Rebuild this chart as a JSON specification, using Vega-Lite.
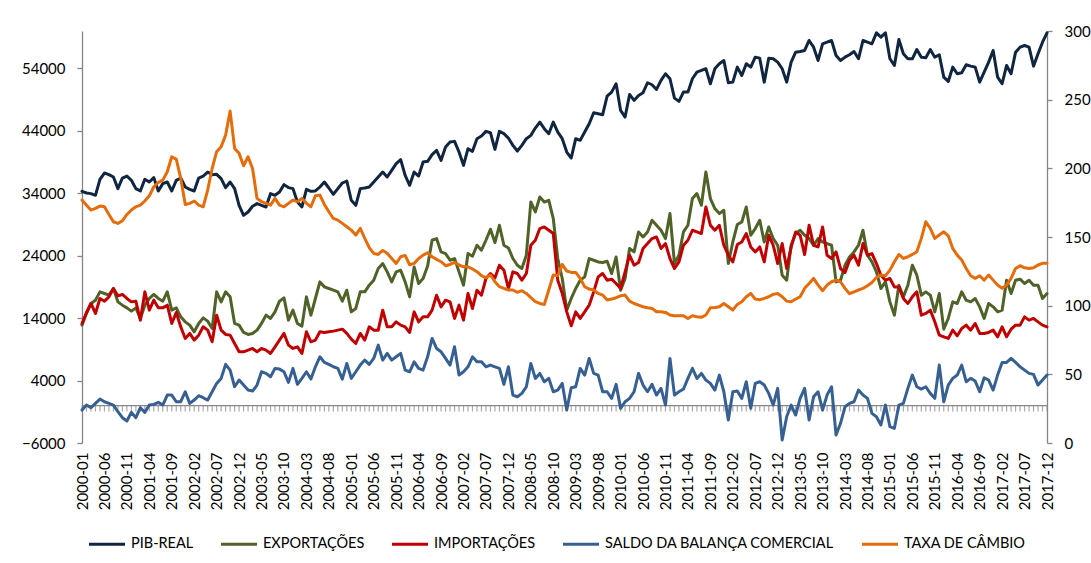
{
"$schema":"https://vega.github.io/schema/vega-lite/v6.json",
"width":965,"height":412,
"autosize":{"type":"none"},
"padding":{"left":82,"top":31,"right":44,"bottom":120},
"background":"#ffffff",
"config":{"view":{"stroke":null},"font":"Lato","axis":{"labelFont":"Lato","labelFontSize":15,"labelColor":"#000000","grid":false,"title":null,"domainColor":"#868686","tickColor":"#868686","domainWidth":1.3,"tickWidth":1.3}},
"data":{"values":[
{"m":"2000-01","pib":34320,"exp":12880,"imp":13150,"saldo":-720,"cambio":176.9},
{"m":"2000-02","pib":34050,"exp":14750,"imp":14910,"saldo":80,"cambio":173.2},
{"m":"2000-03","pib":33950,"exp":16350,"imp":16350,"saldo":-350,"cambio":169.6},
{"m":"2000-04","pib":33680,"exp":16880,"imp":14750,"saldo":350,"cambio":170.8},
{"m":"2000-05","pib":36240,"exp":18210,"imp":17150,"saldo":1040,"cambio":172.5},
{"m":"2000-06","pib":37250,"exp":17950,"imp":16720,"saldo":610,"cambio":172.0},
{"m":"2000-07","pib":36990,"exp":17680,"imp":17410,"saldo":350,"cambio":166.4},
{"m":"2000-08","pib":36610,"exp":18750,"imp":18750,"saldo":80,"cambio":161.1},
{"m":"2000-09","pib":34750,"exp":16610,"imp":17570,"saldo":-990,"cambio":159.9},
{"m":"2000-10","pib":36450,"exp":16080,"imp":17790,"saldo":-1950,"cambio":161.8},
{"m":"2000-11","pib":36770,"exp":15650,"imp":17150,"saldo":-2480,"cambio":166.4},
{"m":"2000-12","pib":36080,"exp":15120,"imp":16610,"saldo":-1090,"cambio":169.6},
{"m":"2001-01","pib":34750,"exp":15650,"imp":16720,"saldo":-1950,"cambio":172.0},
{"m":"2001-02","pib":34370,"exp":13950,"imp":13680,"saldo":-350,"cambio":173.2},
{"m":"2001-03","pib":36240,"exp":16080,"imp":18210,"saldo":-1090,"cambio":176.2},
{"m":"2001-04","pib":35810,"exp":17150,"imp":15280,"saldo":80,"cambio":180.0},
{"m":"2001-05","pib":36510,"exp":17790,"imp":16880,"saldo":190,"cambio":186.6},
{"m":"2001-06","pib":34370,"exp":17150,"imp":15650,"saldo":510,"cambio":189.7},
{"m":"2001-07","pib":35550,"exp":16720,"imp":15650,"saldo":80,"cambio":191.4},
{"m":"2001-08","pib":35810,"exp":18210,"imp":16080,"saldo":1680,"cambio":197.5},
{"m":"2001-09","pib":34370,"exp":15280,"imp":13150,"saldo":1680,"cambio":208.4},
{"m":"2001-10","pib":36080,"exp":15650,"imp":14910,"saldo":610,"cambio":206.7},
{"m":"2001-11","pib":36450,"exp":14210,"imp":12610,"saldo":610,"cambio":192.7},
{"m":"2001-12","pib":35010,"exp":13410,"imp":10750,"saldo":2210,"cambio":173.7},
{"m":"2002-01","pib":34640,"exp":12880,"imp":11550,"saldo":350,"cambio":174.5},
{"m":"2002-02","pib":34370,"exp":11810,"imp":10480,"saldo":880,"cambio":176.2},
{"m":"2002-03","pib":36450,"exp":13150,"imp":11280,"saldo":1570,"cambio":173.2},
{"m":"2002-04","pib":36770,"exp":14050,"imp":12610,"saldo":1250,"cambio":172.0},
{"m":"2002-05","pib":37410,"exp":13520,"imp":12080,"saldo":880,"cambio":184.2},
{"m":"2002-06","pib":36990,"exp":12350,"imp":10210,"saldo":2210,"cambio":199.9},
{"m":"2002-07","pib":37040,"exp":18210,"imp":14480,"saldo":3550,"cambio":212.1},
{"m":"2002-08","pib":36350,"exp":16610,"imp":12080,"saldo":4350,"cambio":215.7},
{"m":"2002-09","pib":34910,"exp":18210,"imp":11390,"saldo":6590,"cambio":224.2},
{"m":"2002-10","pib":35810,"exp":17410,"imp":11280,"saldo":5680,"cambio":241.7},
{"m":"2002-11","pib":34750,"exp":13150,"imp":9950,"saldo":3010,"cambio":214.5},
{"m":"2002-12","pib":32080,"exp":12880,"imp":8610,"saldo":4080,"cambio":210.9},
{"m":"2003-01","pib":30480,"exp":11710,"imp":8610,"saldo":3280,"cambio":201.9},
{"m":"2003-02","pib":31010,"exp":11390,"imp":8880,"saldo":2480,"cambio":208.4},
{"m":"2003-03","pib":31920,"exp":11550,"imp":9150,"saldo":2320,"cambio":199.9},
{"m":"2003-04","pib":32350,"exp":12080,"imp":8610,"saldo":3280,"cambio":178.1},
{"m":"2003-05","pib":32080,"exp":13150,"imp":9150,"saldo":5410,"cambio":175.7},
{"m":"2003-06","pib":31810,"exp":14480,"imp":8880,"saldo":5150,"cambio":174.5},
{"m":"2003-07","pib":33950,"exp":13950,"imp":8350,"saldo":4610,"cambio":173.2},
{"m":"2003-08","pib":33680,"exp":15010,"imp":9410,"saldo":5950,"cambio":178.1},
{"m":"2003-09","pib":34210,"exp":16720,"imp":10480,"saldo":5840,"cambio":173.2},
{"m":"2003-10","pib":35390,"exp":17250,"imp":11550,"saldo":5410,"cambio":172.0},
{"m":"2003-11","pib":34910,"exp":13680,"imp":9680,"saldo":3710,"cambio":174.5},
{"m":"2003-12","pib":34750,"exp":15280,"imp":9150,"saldo":5950,"cambio":176.9},
{"m":"2004-01","pib":32610,"exp":13150,"imp":9410,"saldo":3390,"cambio":175.7},
{"m":"2004-02","pib":31810,"exp":12720,"imp":8350,"saldo":4350,"cambio":178.1},
{"m":"2004-03","pib":34640,"exp":17410,"imp":11810,"saldo":5410,"cambio":174.5},
{"m":"2004-04","pib":34320,"exp":14480,"imp":10210,"saldo":4240,"cambio":172.0},
{"m":"2004-05","pib":34370,"exp":17150,"imp":10480,"saldo":6210,"cambio":180.0},
{"m":"2004-06","pib":35010,"exp":19810,"imp":11810,"saldo":7810,"cambio":180.5},
{"m":"2004-07","pib":35810,"exp":19010,"imp":11710,"saldo":6910,"cambio":173.7},
{"m":"2004-08","pib":34850,"exp":18750,"imp":11810,"saldo":6590,"cambio":168.4},
{"m":"2004-09","pib":33840,"exp":18480,"imp":11920,"saldo":6210,"cambio":163.5},
{"m":"2004-10","pib":34750,"exp":18210,"imp":12080,"saldo":5950,"cambio":162.3},
{"m":"2004-11","pib":35650,"exp":16720,"imp":12240,"saldo":4240,"cambio":159.9},
{"m":"2004-12","pib":35970,"exp":18480,"imp":11550,"saldo":6750,"cambio":157.5},
{"m":"2005-01","pib":32880,"exp":15010,"imp":10640,"saldo":4350,"cambio":155.0},
{"m":"2005-02","pib":32080,"exp":15550,"imp":9950,"saldo":5410,"cambio":151.4},
{"m":"2005-03","pib":34750,"exp":18210,"imp":11550,"saldo":6480,"cambio":156.3},
{"m":"2005-04","pib":34850,"exp":18210,"imp":10480,"saldo":7280,"cambio":149.0},
{"m":"2005-05","pib":35010,"exp":19280,"imp":12610,"saldo":6590,"cambio":142.2},
{"m":"2005-06","pib":35810,"exp":20080,"imp":12080,"saldo":7550,"cambio":138.1},
{"m":"2005-07","pib":36610,"exp":21950,"imp":12080,"saldo":9680,"cambio":137.3},
{"m":"2005-08","pib":37410,"exp":22750,"imp":15280,"saldo":7280,"cambio":140.2},
{"m":"2005-09","pib":36610,"exp":21410,"imp":12610,"saldo":8350,"cambio":138.1},
{"m":"2005-10","pib":37680,"exp":19810,"imp":12610,"saldo":7280,"cambio":134.4},
{"m":"2005-11","pib":38750,"exp":21410,"imp":13410,"saldo":7810,"cambio":130.8},
{"m":"2005-12","pib":39390,"exp":21680,"imp":12880,"saldo":8350,"cambio":135.6},
{"m":"2006-01","pib":36880,"exp":19810,"imp":12610,"saldo":5680,"cambio":136.6},
{"m":"2006-02","pib":35280,"exp":17410,"imp":11710,"saldo":5410,"cambio":129.8},
{"m":"2006-03","pib":37410,"exp":22210,"imp":15010,"saldo":7010,"cambio":130.8},
{"m":"2006-04","pib":36770,"exp":19550,"imp":13410,"saldo":5950,"cambio":134.4},
{"m":"2006-05","pib":39010,"exp":20350,"imp":14210,"saldo":5680,"cambio":136.8},
{"m":"2006-06","pib":39120,"exp":22370,"imp":14210,"saldo":7810,"cambio":138.5},
{"m":"2006-07","pib":40190,"exp":26480,"imp":15280,"saldo":10750,"cambio":135.6},
{"m":"2006-08","pib":40880,"exp":26750,"imp":17680,"saldo":9150,"cambio":133.7},
{"m":"2006-09","pib":39280,"exp":24610,"imp":15810,"saldo":8610,"cambio":132.0},
{"m":"2006-10","pib":41410,"exp":24350,"imp":16880,"saldo":7550,"cambio":129.1},
{"m":"2006-11","pib":42210,"exp":23280,"imp":16610,"saldo":6480,"cambio":130.0},
{"m":"2006-12","pib":42320,"exp":23550,"imp":13950,"saldo":9410,"cambio":131.5},
{"m":"2007-01","pib":40610,"exp":21410,"imp":16080,"saldo":4880,"cambio":129.6},
{"m":"2007-02","pib":38480,"exp":19280,"imp":13680,"saldo":5410,"cambio":128.3},
{"m":"2007-03","pib":41150,"exp":24350,"imp":17950,"saldo":6210,"cambio":128.3},
{"m":"2007-04","pib":40720,"exp":23920,"imp":15550,"saldo":7810,"cambio":126.7},
{"m":"2007-05","pib":42750,"exp":25680,"imp":18480,"saldo":7010,"cambio":124.7},
{"m":"2007-06","pib":43170,"exp":24880,"imp":17680,"saldo":7010,"cambio":121.8},
{"m":"2007-07","pib":43920,"exp":26480,"imp":20350,"saldo":6210,"cambio":120.3},
{"m":"2007-08","pib":43710,"exp":28240,"imp":21150,"saldo":6480,"cambio":122.3},
{"m":"2007-09","pib":41040,"exp":26110,"imp":20450,"saldo":6210,"cambio":117.4},
{"m":"2007-10","pib":43920,"exp":28880,"imp":22480,"saldo":5950,"cambio":113.8},
{"m":"2007-11","pib":43550,"exp":25680,"imp":21680,"saldo":3390,"cambio":112.6},
{"m":"2007-12","pib":42850,"exp":25250,"imp":18750,"saldo":6210,"cambio":111.4},
{"m":"2008-01","pib":41680,"exp":23550,"imp":21410,"saldo":1680,"cambio":111.4},
{"m":"2008-02","pib":40770,"exp":22480,"imp":21150,"saldo":1410,"cambio":109.7},
{"m":"2008-03","pib":41680,"exp":21950,"imp":20080,"saldo":1950,"cambio":110.9},
{"m":"2008-04","pib":42750,"exp":24080,"imp":21150,"saldo":3010,"cambio":108.9},
{"m":"2008-05","pib":43280,"exp":32610,"imp":25680,"saldo":6750,"cambio":105.8},
{"m":"2008-06","pib":44450,"exp":31010,"imp":26480,"saldo":4350,"cambio":102.9},
{"m":"2008-07","pib":45410,"exp":33410,"imp":28350,"saldo":5150,"cambio":101.6},
{"m":"2008-08","pib":44350,"exp":32610,"imp":28610,"saldo":3810,"cambio":100.9},
{"m":"2008-09","pib":43550,"exp":32880,"imp":28080,"saldo":4350,"cambio":111.4},
{"m":"2008-10","pib":45410,"exp":29950,"imp":27550,"saldo":2210,"cambio":122.3},
{"m":"2008-11","pib":43810,"exp":23550,"imp":20080,"saldo":2480,"cambio":121.8},
{"m":"2008-12","pib":42750,"exp":20350,"imp":17950,"saldo":3550,"cambio":130.0},
{"m":"2009-01","pib":40610,"exp":15280,"imp":15010,"saldo":-720,"cambio":125.2},
{"m":"2009-02","pib":39650,"exp":17150,"imp":12770,"saldo":2850,"cambio":124.2},
{"m":"2009-03","pib":42750,"exp":18750,"imp":15010,"saldo":3010,"cambio":124.2},
{"m":"2009-04","pib":42480,"exp":20080,"imp":13950,"saldo":5950,"cambio":119.9},
{"m":"2009-05","pib":43810,"exp":20610,"imp":15010,"saldo":4880,"cambio":113.8},
{"m":"2009-06","pib":45150,"exp":23550,"imp":16080,"saldo":7550,"cambio":112.1},
{"m":"2009-07","pib":46910,"exp":23280,"imp":18210,"saldo":5150,"cambio":111.4},
{"m":"2009-08","pib":46750,"exp":23010,"imp":20610,"saldo":4880,"cambio":108.9},
{"m":"2009-09","pib":46590,"exp":22910,"imp":21150,"saldo":2210,"cambio":107.7},
{"m":"2009-10","pib":49570,"exp":23120,"imp":20080,"saldo":2210,"cambio":104.1},
{"m":"2009-11","pib":50210,"exp":21150,"imp":20240,"saldo":1150,"cambio":104.8},
{"m":"2009-12","pib":51550,"exp":23810,"imp":19550,"saldo":3390,"cambio":105.8},
{"m":"2010-01","pib":47280,"exp":18480,"imp":18750,"saldo":-450,"cambio":107.2},
{"m":"2010-02","pib":46210,"exp":20350,"imp":21410,"saldo":610,"cambio":107.7},
{"m":"2010-03","pib":49840,"exp":25150,"imp":24080,"saldo":1150,"cambio":103.3},
{"m":"2010-04","pib":48880,"exp":24610,"imp":22480,"saldo":2210,"cambio":101.6},
{"m":"2010-05","pib":49680,"exp":27810,"imp":22910,"saldo":5150,"cambio":100.4},
{"m":"2010-06","pib":50110,"exp":27010,"imp":25150,"saldo":3280,"cambio":99.2},
{"m":"2010-07","pib":51710,"exp":27810,"imp":25950,"saldo":2210,"cambio":98.5},
{"m":"2010-08","pib":51390,"exp":29680,"imp":26750,"saldo":3390,"cambio":98.0},
{"m":"2010-09","pib":50640,"exp":28880,"imp":27010,"saldo":1680,"cambio":95.6},
{"m":"2010-10","pib":52080,"exp":28080,"imp":25150,"saldo":2750,"cambio":95.6},
{"m":"2010-11","pib":53150,"exp":26750,"imp":25950,"saldo":80,"cambio":95.1},
{"m":"2010-12","pib":52350,"exp":30750,"imp":23550,"saldo":7550,"cambio":93.2},
{"m":"2011-01","pib":49250,"exp":22750,"imp":21950,"saldo":1680,"cambio":92.7},
{"m":"2011-02","pib":48720,"exp":24080,"imp":23010,"saldo":2210,"cambio":92.7},
{"m":"2011-03","pib":50210,"exp":27810,"imp":25680,"saldo":2640,"cambio":92.7},
{"m":"2011-04","pib":50210,"exp":28880,"imp":26480,"saldo":4350,"cambio":90.7},
{"m":"2011-05","pib":52350,"exp":33150,"imp":28080,"saldo":5950,"cambio":92.7},
{"m":"2011-06","pib":53410,"exp":33950,"imp":27810,"saldo":4350,"cambio":91.9},
{"m":"2011-07","pib":53680,"exp":32080,"imp":27550,"saldo":5150,"cambio":91.5},
{"m":"2011-08","pib":53950,"exp":37410,"imp":31810,"saldo":4080,"cambio":93.2},
{"m":"2011-09","pib":51550,"exp":33150,"imp":28880,"saldo":3550,"cambio":98.5},
{"m":"2011-10","pib":53950,"exp":31550,"imp":28080,"saldo":2480,"cambio":98.7},
{"m":"2011-11","pib":54750,"exp":30750,"imp":28880,"saldo":4880,"cambio":99.2},
{"m":"2011-12","pib":55280,"exp":31280,"imp":25680,"saldo":2210,"cambio":101.6},
{"m":"2012-01","pib":51710,"exp":22750,"imp":24080,"saldo":-2320,"cambio":99.2},
{"m":"2012-02","pib":51810,"exp":26210,"imp":23010,"saldo":2210,"cambio":96.8},
{"m":"2012-03","pib":54210,"exp":28990,"imp":25790,"saldo":2320,"cambio":100.9},
{"m":"2012-04","pib":52880,"exp":29410,"imp":26210,"saldo":1150,"cambio":102.9},
{"m":"2012-05","pib":54750,"exp":31810,"imp":27550,"saldo":3810,"cambio":106.5},
{"m":"2012-06","pib":54210,"exp":27280,"imp":25410,"saldo":-450,"cambio":108.9},
{"m":"2012-07","pib":55810,"exp":28350,"imp":24610,"saldo":3550,"cambio":104.8},
{"m":"2012-08","pib":55650,"exp":29680,"imp":25410,"saldo":3810,"cambio":104.3},
{"m":"2012-09","pib":51810,"exp":26210,"imp":23010,"saldo":3280,"cambio":105.3},
{"m":"2012-10","pib":55650,"exp":28610,"imp":27280,"saldo":1950,"cambio":106.5},
{"m":"2012-11","pib":55550,"exp":26750,"imp":25680,"saldo":80,"cambio":108.2},
{"m":"2012-12","pib":55010,"exp":25680,"imp":22750,"saldo":2750,"cambio":108.9},
{"m":"2013-01","pib":53950,"exp":20880,"imp":25950,"saldo":-5520,"cambio":106.5},
{"m":"2013-02","pib":51810,"exp":20080,"imp":21950,"saldo":-1790,"cambio":103.3},
{"m":"2013-03","pib":55010,"exp":25680,"imp":25410,"saldo":80,"cambio":102.9},
{"m":"2013-04","pib":56610,"exp":27550,"imp":27810,"saldo":-1520,"cambio":104.8},
{"m":"2013-05","pib":56720,"exp":28080,"imp":27280,"saldo":1150,"cambio":106.5},
{"m":"2013-06","pib":56880,"exp":27280,"imp":24190,"saldo":2750,"cambio":112.6},
{"m":"2013-07","pib":58480,"exp":26750,"imp":28880,"saldo":-2320,"cambio":116.2},
{"m":"2013-08","pib":57410,"exp":25680,"imp":25680,"saldo":1410,"cambio":119.9},
{"m":"2013-09","pib":55280,"exp":26750,"imp":25410,"saldo":2210,"cambio":115.0},
{"m":"2013-10","pib":57950,"exp":26210,"imp":28610,"saldo":-720,"cambio":110.9},
{"m":"2013-11","pib":58210,"exp":25950,"imp":24080,"saldo":1680,"cambio":115.0},
{"m":"2013-12","pib":58480,"exp":25680,"imp":23550,"saldo":3010,"cambio":117.4},
{"m":"2014-01","pib":56080,"exp":19810,"imp":24610,"saldo":-4720,"cambio":118.6},
{"m":"2014-02","pib":55280,"exp":20080,"imp":21950,"saldo":-2850,"cambio":117.4},
{"m":"2014-03","pib":55810,"exp":22480,"imp":21310,"saldo":-190,"cambio":112.6},
{"m":"2014-04","pib":56190,"exp":23810,"imp":23280,"saldo":350,"cambio":108.7},
{"m":"2014-05","pib":56720,"exp":24610,"imp":24080,"saldo":610,"cambio":110.1},
{"m":"2014-06","pib":55550,"exp":25680,"imp":22480,"saldo":2480,"cambio":111.4},
{"m":"2014-07","pib":58480,"exp":28080,"imp":25950,"saldo":1680,"cambio":112.6},
{"m":"2014-08","pib":58210,"exp":24080,"imp":24080,"saldo":1150,"cambio":114.5},
{"m":"2014-09","pib":57950,"exp":23010,"imp":24350,"saldo":-1250,"cambio":116.9},
{"m":"2014-10","pib":59710,"exp":21410,"imp":22750,"saldo":-1790,"cambio":120.6},
{"m":"2014-11","pib":59010,"exp":18750,"imp":20880,"saldo":-3120,"cambio":122.3},
{"m":"2014-12","pib":59710,"exp":19810,"imp":20080,"saldo":80,"cambio":121.8},
{"m":"2015-01","pib":55550,"exp":16610,"imp":20350,"saldo":-3390,"cambio":125.9},
{"m":"2015-02","pib":54480,"exp":14480,"imp":19010,"saldo":-3650,"cambio":132.0},
{"m":"2015-03","pib":58640,"exp":19280,"imp":19010,"saldo":80,"cambio":137.3},
{"m":"2015-04","pib":56350,"exp":17410,"imp":17150,"saldo":350,"cambio":134.4},
{"m":"2015-05","pib":55550,"exp":19280,"imp":16350,"saldo":2750,"cambio":135.6},
{"m":"2015-06","pib":55550,"exp":22480,"imp":17410,"saldo":4880,"cambio":137.3},
{"m":"2015-07","pib":57040,"exp":20880,"imp":18210,"saldo":3010,"cambio":139.3},
{"m":"2015-08","pib":55810,"exp":17680,"imp":14480,"saldo":2640,"cambio":149.0},
{"m":"2015-09","pib":55710,"exp":18210,"imp":14750,"saldo":3010,"cambio":161.1},
{"m":"2015-10","pib":57040,"exp":17680,"imp":15280,"saldo":1950,"cambio":156.3},
{"m":"2015-11","pib":55810,"exp":15010,"imp":13410,"saldo":1150,"cambio":149.0},
{"m":"2015-12","pib":56190,"exp":17950,"imp":11280,"saldo":6480,"cambio":151.4},
{"m":"2016-01","pib":52610,"exp":12240,"imp":11010,"saldo":610,"cambio":153.8},
{"m":"2016-02","pib":51920,"exp":13950,"imp":10750,"saldo":3280,"cambio":150.9},
{"m":"2016-03","pib":54210,"exp":16610,"imp":12080,"saldo":4350,"cambio":141.7},
{"m":"2016-04","pib":53150,"exp":16350,"imp":11170,"saldo":4880,"cambio":136.8},
{"m":"2016-05","pib":53310,"exp":18210,"imp":12350,"saldo":6480,"cambio":133.2},
{"m":"2016-06","pib":54590,"exp":16880,"imp":12880,"saldo":3810,"cambio":127.1},
{"m":"2016-07","pib":54370,"exp":16610,"imp":12080,"saldo":4350,"cambio":121.8},
{"m":"2016-08","pib":54210,"exp":17150,"imp":13150,"saldo":3920,"cambio":119.9},
{"m":"2016-09","pib":51810,"exp":15810,"imp":11550,"saldo":2210,"cambio":121.8},
{"m":"2016-10","pib":53410,"exp":13950,"imp":11550,"saldo":4450,"cambio":118.6},
{"m":"2016-11","pib":55010,"exp":16350,"imp":11710,"saldo":4080,"cambio":122.3},
{"m":"2016-12","pib":56880,"exp":15810,"imp":12080,"saldo":2480,"cambio":118.6},
{"m":"2017-01","pib":52610,"exp":15010,"imp":11010,"saldo":4880,"cambio":115.0},
{"m":"2017-02","pib":51550,"exp":15280,"imp":12610,"saldo":6910,"cambio":112.6},
{"m":"2017-03","pib":54480,"exp":20080,"imp":11010,"saldo":6910,"cambio":115.0},
{"m":"2017-04","pib":53150,"exp":17950,"imp":12240,"saldo":7550,"cambio":119.9},
{"m":"2017-05","pib":56610,"exp":20080,"imp":12880,"saldo":6910,"cambio":127.1},
{"m":"2017-06","pib":57410,"exp":20240,"imp":12880,"saldo":6210,"cambio":129.1},
{"m":"2017-07","pib":57680,"exp":19550,"imp":14210,"saldo":5680,"cambio":127.6},
{"m":"2017-08","pib":57410,"exp":20080,"imp":13680,"saldo":5150,"cambio":127.1},
{"m":"2017-09","pib":54370,"exp":19280,"imp":13950,"saldo":4990,"cambio":127.6},
{"m":"2017-10","pib":56350,"exp":19280,"imp":13410,"saldo":3280,"cambio":129.6},
{"m":"2017-11","pib":58210,"exp":17150,"imp":12880,"saldo":4080,"cambio":130.8},
{"m":"2017-12","pib":59710,"exp":17950,"imp":12610,"saldo":4880,"cambio":130.8}
]},
"resolve":{"scale":{"y":"independent"}},
"layer":[
{"layer":[
{"data":{"values":[{"z":0}]},"mark":{"type":"rule","color":"#868686","strokeWidth":1.3},"encoding":{"y":{"field":"z","type":"quantitative","scale":{"domain":[-6000,60000],"nice":false,"zero":false}}}},
{"mark":{"type":"tick","orient":"vertical","size":6,"thickness":1.2,"color":"#868686","yOffset":3},"encoding":{"x":{"field":"m","type":"ordinal","scale":{"type":"point","padding":0}},"y":{"datum":0,"type":"quantitative","scale":{"domain":[-6000,60000],"nice":false,"zero":false}}}},
{"transform":[{"fold":["pib","exp","imp","saldo"],"as":["k","v"]}],
"mark":{"type":"line","strokeWidth":3,"strokeJoin":"round","strokeCap":"round"},
"encoding":{
"x":{"field":"m","type":"ordinal","scale":{"type":"point","padding":0},"axis":{"orient":"bottom","values":["2000-01","2000-06","2000-11","2001-04","2001-09","2002-02","2002-07","2002-12","2003-05","2003-10","2004-03","2004-08","2005-01","2005-06","2005-11","2006-04","2006-09","2007-02","2007-07","2007-12","2008-05","2008-10","2009-03","2009-08","2010-01","2010-06","2010-11","2011-04","2011-09","2012-02","2012-07","2012-12","2013-05","2013-10","2014-03","2014-08","2015-01","2015-06","2015-11","2016-04","2016-09","2017-02","2017-07","2017-12"],"labelAngle":-90,"labelAlign":"right","labelBaseline":"middle","ticks":false,"domain":false,"labelPadding":9}},
"y":{"field":"v","type":"quantitative","scale":{"domain":[-6000,60000],"nice":false,"zero":false},"axis":{"orient":"left","values":[-6000,4000,14000,24000,34000,44000,54000],"format":"d","tickSize":5,"labelPadding":12}},
"color":{"field":"k","type":"nominal","scale":{"domain":["pib","exp","imp","saldo","cambio"],"range":["#10253F","#4F6228","#C00000","#376092","#E46C0A"]},
"legend":{"orient":"none","legendX":5,"legendY":493,"direction":"horizontal","columns":5,"title":null,"symbolType":"stroke","symbolSize":1300,"symbolStrokeWidth":3,"labelFont":"Lato","labelFontSize":14.5,"labelColor":"#000000","labelLimit":500,"columnPadding":20,"labelOffset":4,"padding":0,
"labelExpr":"datum.label=='pib'?'PIB-REAL':datum.label=='exp'?'EXPORTAÇÕES':datum.label=='imp'?'IMPORTAÇÕES':datum.label=='saldo'?'SALDO DA BALANÇA COMERCIAL':'TAXA DE CÂMBIO'"}}
}}
]},
{"transform":[{"fold":["cambio"],"as":["k","v"]}],
"mark":{"type":"line","strokeWidth":3,"strokeJoin":"round","strokeCap":"round"},
"encoding":{
"x":{"field":"m","type":"ordinal","scale":{"type":"point","padding":0}},
"y":{"field":"v","type":"quantitative","scale":{"domain":[0,300],"nice":false,"zero":false},"axis":{"orient":"right","values":[0,50,100,150,200,250,300],"tickSize":5,"labelPadding":12}},
"color":{"field":"k","type":"nominal"}
}}
]
}
